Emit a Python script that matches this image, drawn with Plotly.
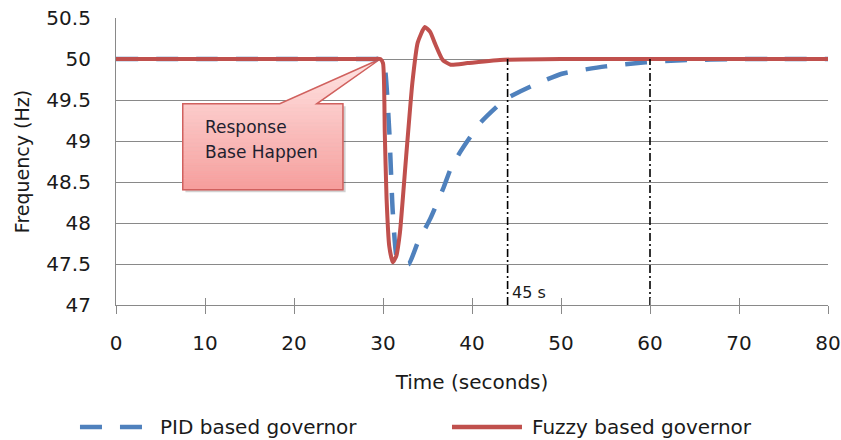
import numpy as np
import plotly.graph_objects as go

# ---- data -------------------------------------------------------------
pid_time = [0, 10, 20, 26, 29, 29.8, 30.2, 30.7, 31.1, 31.6, 32.2, 32.9, 33.9, 35.3, 36.8,
            37.6, 38.7, 39.8, 41.1, 42.8, 43.9, 46.7, 50.1, 55.0, 59.5, 63.6, 70, 75, 80]
pid_freq = [50, 50, 50, 50, 50, 50, 49.9, 49.13, 48.13, 47.55, 47.5, 47.5, 47.76, 48.05, 48.43,
            48.66, 48.87, 49.05, 49.24, 49.42, 49.52, 49.67, 49.82, 49.91, 49.96, 49.985, 50, 50, 50]

fuzzy_time = [0, 10, 20, 26, 29, 29.7, 30.0, 30.2, 30.4, 30.7, 31.1, 31.5, 31.9, 32.6, 33.3,
              33.9, 34.7, 35.3, 35.8, 36.7, 37.6, 39.5, 43.6, 50, 60, 70, 80]
fuzzy_freq = [50, 50, 50, 50, 50, 50, 49.95, 49.1, 48.3, 47.72, 47.52, 47.6, 47.88, 48.81, 49.71,
              50.2, 50.39, 50.33, 50.2, 49.99, 49.93, 49.95, 49.99, 50, 50, 50, 50]

settle_times = [44, 60]          # settling-time markers (s)
settle_label = "45 s"
x_ticks = [0, 10, 20, 30, 40, 50, 60, 70, 80]
y_ticks = [47, 47.5, 48, 48.5, 49, 49.5, 50, 50.5]

BLUE = "#4F81BD"
RED = "#C0504D"
GRID = "#898989"
FONT = "DejaVu Sans"

fig = go.Figure()

# PID response (dashed, behind)
fig.add_trace(go.Scatter(
    x=pid_time, y=pid_freq, mode="lines", name="PID based governor",
    line=dict(color=BLUE, width=4.5, dash="22px,18px", shape="spline", smoothing=0.5),
    showlegend=False, hoverinfo="skip"))

# Fuzzy response (solid, on top)
fig.add_trace(go.Scatter(
    x=fuzzy_time, y=fuzzy_freq, mode="lines", name="Fuzzy based governor",
    line=dict(color=RED, width=4, shape="spline", smoothing=0.5),
    showlegend=False, hoverinfo="skip"))

# settling-time markers
for t in settle_times:
    fig.add_trace(go.Scatter(
        x=[t, t], y=[y_ticks[0], 50], mode="lines",
        line=dict(color="black", width=1.6, dash="8px,3px,2px,3px"),
        showlegend=False, hoverinfo="skip"))

fig.add_annotation(x=settle_times[0], y=47.15, xref="x", yref="y",
                   text=settle_label, showarrow=False, xanchor="left", yanchor="middle",
                   xshift=2, font=dict(family=FONT, size=16, color="#1a1a1a"))

# ---- callout "Response Base Happen" -------------------------------------
bx0, bx1 = 7.5, 25.5          # box left/right (s)
by0, by1 = 48.404, 49.454     # box bottom/top (Hz)
px0, px1 = 18.4, 22.55        # pointer base on box top
tip = (29.7, 50.0)            # pointer tip

def lerp_color(c0, c1, a):
    return "rgb({},{},{})".format(*[int(round(c0[i] + (c1[i] - c0[i]) * a)) for i in range(3)])

top_col = (255, 228, 228)
bot_col = (246, 158, 156)

# drop shadow
sdx, sdy = 0.3, -0.03
fig.add_shape(type="path", xref="x", yref="y", layer="between",
              path=(f"M{bx0+sdx},{by0+sdy} L{bx1+sdx},{by0+sdy} L{bx1+sdx},{by1+sdy} "
                    f"L{bx0+sdx},{by1+sdy} Z"),
              fillcolor="rgba(0,0,0,0.18)", line=dict(width=0))

# vertical gradient built from horizontal bands
n_tri, n_box = 8, 22
levels_tri = np.linspace(tip[1], by1, n_tri + 1)
levels_box = np.linspace(by1, by0, n_box + 1)
span = tip[1] - by0

def tri_x(y):
    a = (y - by1) / (tip[1] - by1)
    return px0 + (tip[0] - px0) * a, px1 + (tip[0] - px1) * a

for ya, yb in zip(levels_tri[:-1], levels_tri[1:]):
    la, ra = tri_x(ya)
    lb, rb = tri_x(yb)
    col = lerp_color(top_col, bot_col, (tip[1] - (ya + yb) / 2) / span)
    fig.add_shape(type="path", xref="x", yref="y", layer="between",
                  path=f"M{la},{ya} L{ra},{ya} L{rb},{yb} L{lb},{yb} Z",
                  fillcolor=col, line=dict(color=col, width=0.6))

for ya, yb in zip(levels_box[:-1], levels_box[1:]):
    col = lerp_color(top_col, bot_col, (tip[1] - (ya + yb) / 2) / span)
    fig.add_shape(type="rect", xref="x", yref="y", layer="between",
                  x0=bx0, x1=bx1, y0=yb, y1=ya,
                  fillcolor=col, line=dict(color=col, width=0.6))

fig.add_shape(type="path", xref="x", yref="y", layer="between",
              path=(f"M{bx0},{by0} L{bx0},{by1} L{px0},{by1} L{tip[0]},{tip[1]} "
                    f"L{px1},{by1} L{bx1},{by1} L{bx1},{by0} Z"),
              fillcolor="rgba(0,0,0,0)", line=dict(color="#D0615E", width=1.5))

for line_text, yy in (("Response", 49.17), ("Base Happen", 48.86)):
    fig.add_annotation(x=9.8, y=yy, xref="x", yref="y",
                       text=line_text, showarrow=False,
                       xanchor="left", yanchor="middle", align="left",
                       font=dict(family=FONT, size=17, color="#1f1f2f"))

# ---- legend drawn below the axis title ---------------------------------
leg_y = -0.425
fig.add_shape(type="line", xref="paper", yref="paper", x0=-0.0506, x1=0.0407,
              y0=leg_y, y1=leg_y, line=dict(color=BLUE, width=4.5, dash="22px,18px"))
fig.add_shape(type="line", xref="paper", yref="paper", x0=0.4719, x1=0.5702,
              y0=leg_y, y1=leg_y, line=dict(color=RED, width=4.5))
fig.add_annotation(x=0.059, y=leg_y, xref="paper", yref="paper", text="PID based governor",
                   showarrow=False, xanchor="left", yanchor="middle",
                   font=dict(family=FONT, size=20, color="#1a1a1a"))
fig.add_annotation(x=0.5815, y=leg_y, xref="paper", yref="paper", text="Fuzzy based governor",
                   showarrow=False, xanchor="left", yanchor="middle",
                   font=dict(family=FONT, size=20, color="#1a1a1a"))

# ---- axes --------------------------------------------------------------
fig.update_layout(
    width=841, height=440,
    margin=dict(l=116, r=13, t=18, b=135),
    paper_bgcolor="white", plot_bgcolor="white",
    font=dict(family=FONT, size=20, color="#1a1a1a"),
    showlegend=False,
    xaxis=dict(range=[0, 80], tickvals=x_ticks, ticktext=[str(v) for v in x_ticks],
               automargin=False,
               showgrid=False, zeroline=False, showline=True, linecolor=GRID, linewidth=1.2,
               ticks="outside", ticklen=8, tickcolor=GRID, tickwidth=1.2,
               ticklabelstandoff=12,
               tickfont=dict(family=FONT, size=20),
               title=dict(text="Time (seconds)", font=dict(family=FONT, size=20), standoff=20)),
    xaxis2=dict(range=[0, 80], tickvals=x_ticks, overlaying="x", anchor="y", side="bottom",
                automargin=False,
                showgrid=False, zeroline=False, showline=False, showticklabels=False,
                ticks="inside", ticklen=7, tickcolor=GRID, tickwidth=1.2),
    yaxis=dict(range=[47, 50.5], tickvals=y_ticks, ticktext=[f"{v:g}" for v in y_ticks],
               automargin=False,
               showgrid=True, gridcolor=GRID, gridwidth=1, zeroline=False,
               showline=True, linecolor=GRID, linewidth=1.2,
               ticks="", ticklabelstandoff=20,
               tickfont=dict(family=FONT, size=20),
               title=dict(text="Frequency (Hz)", font=dict(family=FONT, size=19), standoff=11)),
)

# dummy trace to draw the inner half of the crossing x ticks
fig.add_trace(go.Scatter(x=[0], y=[47], xaxis="x2", yaxis="y", mode="markers",
                         marker=dict(opacity=0), showlegend=False, hoverinfo="skip"))

fig.write_html("out.html")
